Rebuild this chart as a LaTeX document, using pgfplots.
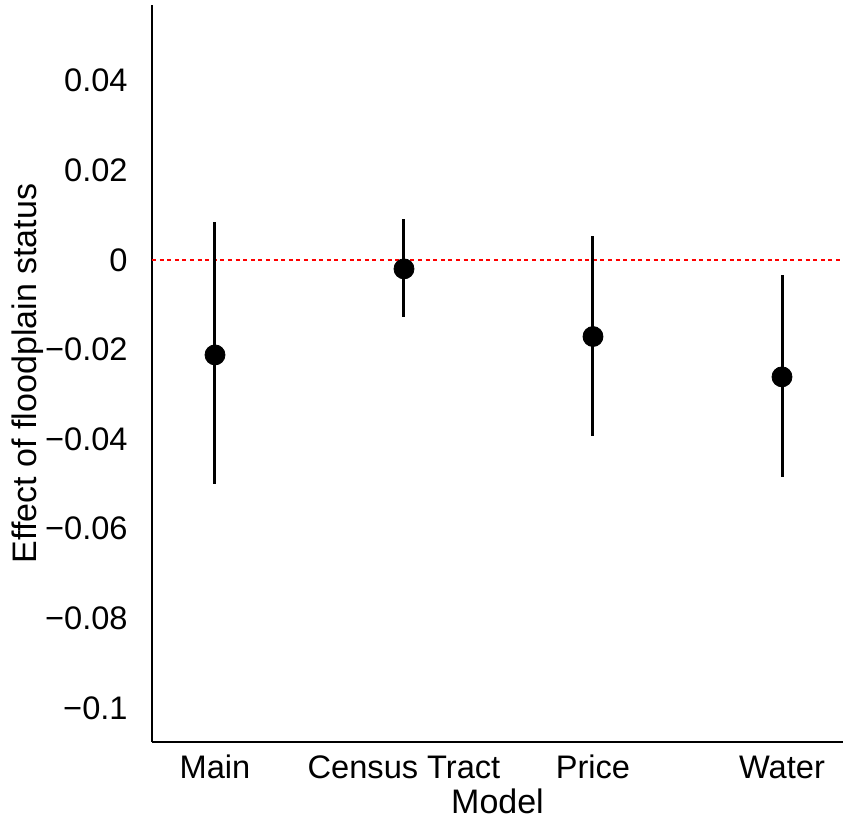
\documentclass[border=0pt]{standalone}
\usepackage{pgfplots}
\pgfplotsset{compat=1.18}
\usepackage{pgfplotstable}
\usepackage{fontspec}
\setmainfont{Liberation Sans}

\definecolor{refline}{RGB}{255,0,0}

% model, estimate, upper and lower half-widths of the interval
\pgfplotstableread{
x   est      up      dn
1  -0.0212  0.0297  0.0288
2  -0.0020  0.0111  0.0108
3  -0.0171  0.0225  0.0223
4  -0.0261  0.0228  0.0223
}\effects

\begin{document}
\begin{tikzpicture}[font=\fontsize{16bp}{19bp}\selectfont]
\begin{axis}[
    scale only axis, width=345.5bp, height=368.5bp,
    xmin=0.6667, xmax=4.3228, ymin=-0.1076, ymax=0.0569,
    axis x line=bottom, axis y line=left,
    axis line style={-, line width=0.6bp, black},
    major tick length=0pt,
    tick label style={font=\fontsize{16.3bp}{19bp}\selectfont},
    label style={font=\fontsize{17bp}{20bp}\selectfont},
    xtick={1,2,3,4}, xticklabels={Main,Census Tract,Price,Water},
    ytick={-0.1,-0.08,-0.06,-0.04,-0.02,0,0.02,0.04},
    yticklabels={−0.1,−0.08,−0.06,−0.04,−0.02,0,0.02,0.04},
    xticklabel style={anchor=base, inner sep=0pt, yshift=-18bp},
    yticklabel style={anchor=east, inner sep=0pt, xshift=-12bp},
    xlabel={Model}, ylabel={Effect of floodplain status},
    xlabel style={at={(axis description cs:0.5,0)}, anchor=base, yshift=-35.5bp},
    ylabel style={at={(axis description cs:0,0.5)}, anchor=base, yshift=57.5bp},
    clip=false,
]
\addplot[draw=refline, line width=0.6bp, dash pattern=on 2bp off 1.8bp] coordinates {(0.6667,0) (4.3228,0)};
\addplot[black, only marks, mark=*, mark size=5bp,
    error bars/.cd, y dir=both, y explicit, error mark=none,
    error bar style={line width=1.5bp, black}]
    table[x=x, y=est, y error plus=up, y error minus=dn] {\effects};
\end{axis}
\pgfresetboundingbox
\useasboundingbox ([shift={(-76bp,-45bp)}]current axis.south west) rectangle ([shift={(0bp,2.5bp)}]current axis.north east);
\end{tikzpicture}
\end{document}
